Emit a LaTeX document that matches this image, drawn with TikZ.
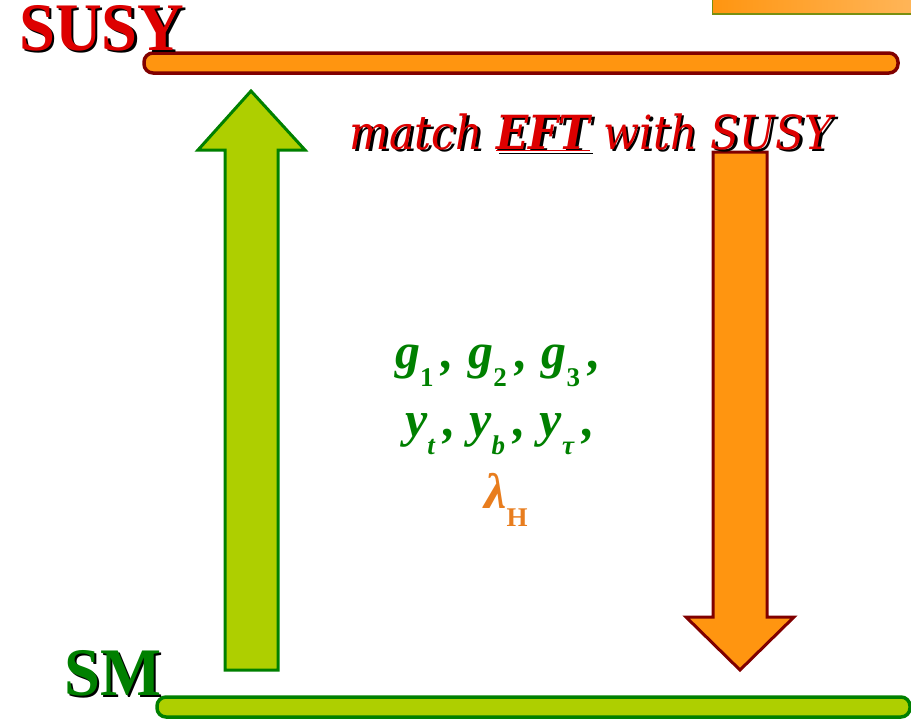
\documentclass[tikz,border=0pt]{standalone}
\usepackage{fontspec}
\setmainfont{Liberation Serif}
\newfontfamily\levelfont[FakeStretch=0.95]{Liberation Serif}
\newfontfamily\matchfont[FakeStretch=0.9]{DejaVu Serif}
\usetikzlibrary{positioning}
\definecolor{barorange}{RGB}{255,149,16}
\definecolor{darkred}{RGB}{128,0,0}
\definecolor{limegreen}{RGB}{174,207,0}
\definecolor{leafgreen}{RGB}{0,128,0}
\definecolor{susyred}{RGB}{221,0,0}
\definecolor{lamorange}{RGB}{232,125,30}
\definecolor{oliveline}{RGB}{122,143,16}
\newcommand{\lowidx}[1]{\raisebox{-0.36em}{\fontsize{27}{27}\selectfont\upshape #1}}
\newcommand{\dropshadow}[1]{\rlap{\hspace{2.5pt}\raisebox{-2.5pt}{\color{black}#1}}#1}
\tikzset{
  susybar/.style={draw=darkred, fill=barorange, line width=3.5pt, rounded corners=9pt},
  smbar/.style={draw=leafgreen, fill=limegreen, line width=3.5pt, rounded corners=9pt},
  uparrow/.style={draw=leafgreen, fill=limegreen, line width=3pt, line join=miter},
  downarrow/.style={draw=darkred, fill=barorange, line width=3pt, line join=miter},
  level/.style={inner sep=0pt, font=\levelfont\bfseries\fontsize{68}{68}\selectfont},
  matchtxt/.style={inner sep=0pt, text=susyred, font=\matchfont\itshape\fontsize{47}{47}\selectfont},
  coupling/.style={inner sep=0pt, text=leafgreen, font=\bfseries\itshape\fontsize{50}{50}\selectfont}
}
\begin{document}
\begin{tikzpicture}[x=1pt, y=-1pt]
\useasboundingbox (0,0) rectangle (911,721);
% corner box
\fill[left color=barorange, right color=barorange!70!white] (712,0) rectangle (911,14);
\draw[oliveline, line width=2pt] (712,14) -- (911,14);
\draw[oliveline, line width=1pt] (712,0) -- (712,14);
% scale bars
\draw[susybar] (144,53) rectangle (898,73);
\draw[smbar] (157,697) rectangle (910,717);
% running arrows
\draw[uparrow] (225,670) -- (225,150) -- (198,150) -- (251,91) -- (305,150) -- (278,150) -- (278,670) -- cycle;
\draw[downarrow] (713,152) -- (713,617) -- (686,617) -- (740,670) -- (794,617) -- (767,617) -- (767,152) -- cycle;
% labels
\node[level, text=susyred, anchor=base west] (susy) at (19,50) {\dropshadow{SUSY}};
\node[level, text=leafgreen, anchor=base west] (sm) at (64,695) {\dropshadow{SM}};
\node[matchtxt, anchor=base] (match) at (591,149) {\dropshadow{match} \dropshadow{\textbf{\underline{EFT}}} \dropshadow{with} \dropshadow{SUSY}};
\node[coupling, anchor=base] (gauge) at (498,368) {g\lowidx{1}\,,\;g\lowidx{2}\,,\;g\lowidx{3}\,,};
\node[coupling, anchor=base] (yuk) at (500,436) {y\lowidx{\itshape t}\,,\;y\lowidx{\itshape b}\,,\;y\lowidx{\itshape τ}\,,};
\node[coupling, text=lamorange, anchor=base] (lam) at (506,508) {λ\lowidx{H}};
\end{tikzpicture}
\end{document}
